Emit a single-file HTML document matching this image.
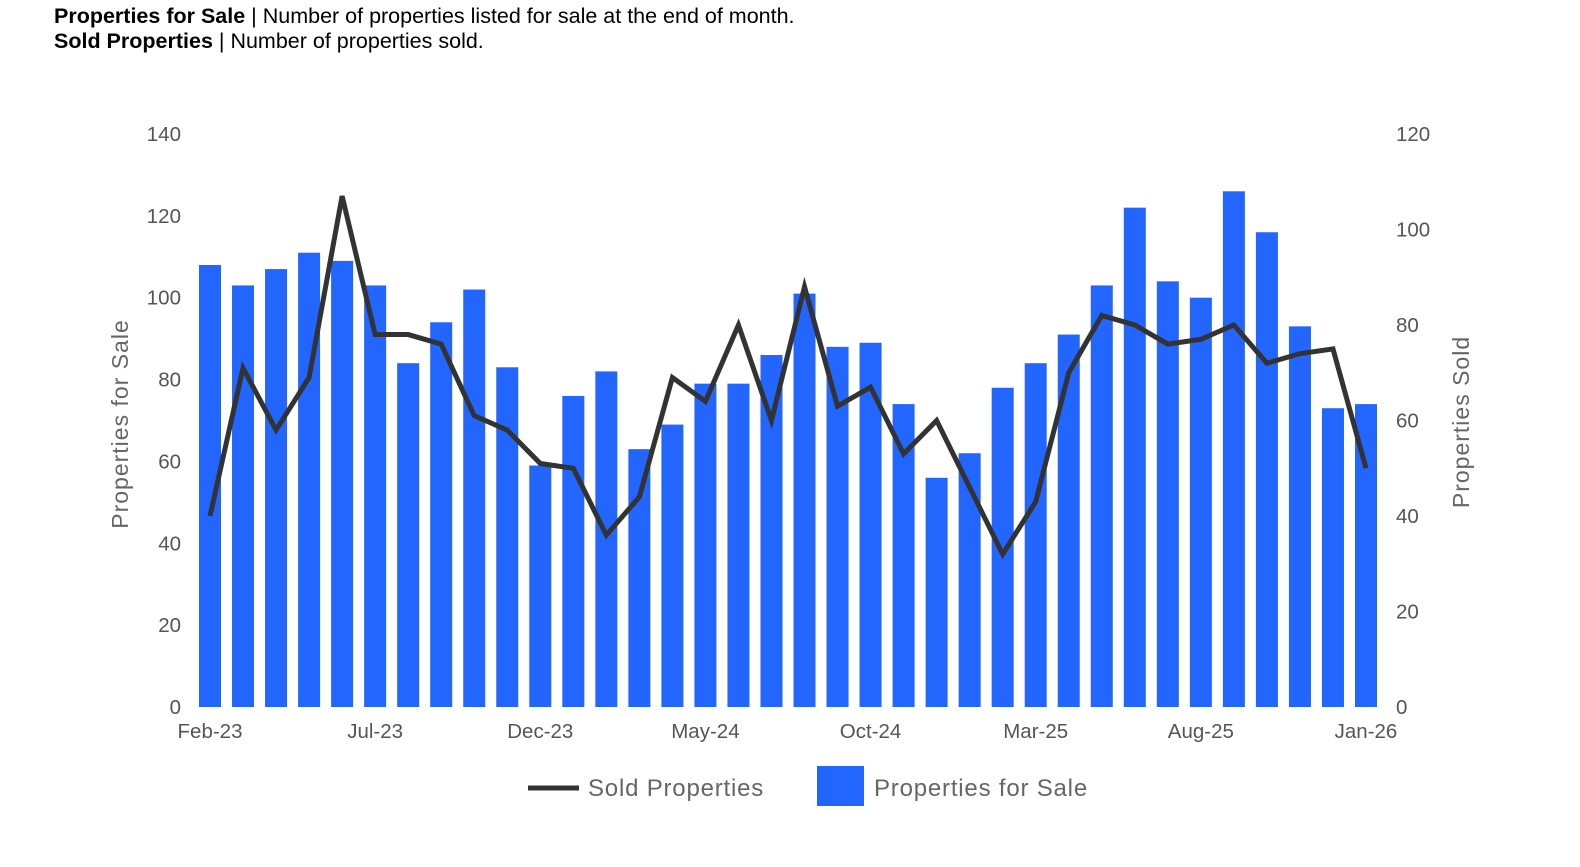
<!DOCTYPE html>
<html><head><meta charset="utf-8"><style>
body{margin:0;background:#fff;font-family:"Liberation Sans",Arial,sans-serif;}
#wrap{position:relative;width:1580px;height:867px;overflow:hidden;}
.hdr{position:absolute;left:54px;font-size:21.5px;color:#000;white-space:nowrap;}
svg text{font-family:"Liberation Sans",Arial,sans-serif;}
</style></head><body>
<div id="wrap">
<div class="hdr" style="top:4px"><b>Properties for Sale</b> | Number of properties listed for sale at the end of month.</div>
<div class="hdr" style="top:29px"><b>Sold Properties</b> | Number of properties sold.</div>
<svg id="chart" width="1580" height="867" style="position:absolute;left:0;top:0"></svg>
</div>
<script>
const months=["Feb-23","Mar-23","Apr-23","May-23","Jun-23","Jul-23","Aug-23","Sep-23","Oct-23","Nov-23","Dec-23","Jan-24","Feb-24","Mar-24","Apr-24","May-24","Jun-24","Jul-24","Aug-24","Sep-24","Oct-24","Nov-24","Dec-24","Jan-25","Feb-25","Mar-25","Apr-25","May-25","Jun-25","Jul-25","Aug-25","Sep-25","Oct-25","Nov-25","Dec-25","Jan-26"];
const forSale=[108,103,107,111,109,103,84,94,102,83,59,76,82,63,69,79,79,86,101,88,89,74,56,62,78,84,91,103,122,104,100,126,116,93,73,74];
const sold=[40,71,58,69,107,78,78,76,61,58,51,50,36,44,69,64,80,60,88,63,67,53,60,46,32,43,70,82,80,76,77,80,72,74,75,50];
const leftTicks=[0,20,40,60,80,100,120,140];
const rightTicks=[0,20,40,60,80,100,120];
const xLabelIdx=[0,5,10,15,20,25,30,35];

const NS="http://www.w3.org/2000/svg";
const svg=document.getElementById('chart');
const y0=707,yTop=134,x0=210,x1=1366;
const yL=v=>y0-(v/140)*(y0-yTop);
const yR=v=>y0-(v/120)*(y0-yTop);
const step=(x1-x0)/(months.length-1);
const xC=i=>x0+i*step;
function mk(t,a,txt){const e=document.createElementNS(NS,t);for(const k in a)e.setAttribute(k,a[k]);if(txt!=null)e.textContent=txt;svg.appendChild(e);return e;}

leftTicks.forEach(v=>{const e=mk('text',{x:181,y:yL(v)+7,'text-anchor':'end','font-size':20.5,fill:'#555'},v);

});
rightTicks.forEach(v=>{const e=mk('text',{x:1396,y:yR(v)+7,'font-size':20.5,fill:'#555'},v);

});
let t=mk('text',{x:128,y:424,'text-anchor':'middle','font-size':23,'letter-spacing':1,fill:'#666',transform:'rotate(-90 128 424)'},'Properties for Sale');


t=mk('text',{x:1469,y:422,'text-anchor':'middle','font-size':23,'letter-spacing':1,fill:'#666',transform:'rotate(-90 1469 422)'},'Properties Sold');



forSale.forEach((v,i)=>{const r=mk('rect',{x:xC(i)-11,y:yL(v),width:22,height:y0-yL(v),fill:'#2266ff'});

});
xLabelIdx.forEach(i=>{const e=mk('text',{x:xC(i),y:738,'text-anchor':'middle','font-size':20.5,fill:'#555'},months[i]);

});
const pts=sold.map((v,i)=>xC(i)+','+yR(v)).join(' ');
const pl=mk('polyline',{points:pts,fill:'none',stroke:'#333',"stroke-width":5,"stroke-linejoin":'miter'});



let g=mk('line',{x1:528,y1:788,x2:579,y2:788,stroke:'#333','stroke-width':5});


g=mk('text',{x:588,y:796,'font-size':24,'letter-spacing':0.8,fill:'#666'},'Sold Properties');


g=mk('rect',{x:817,y:766,width:47,height:40,fill:'#2266ff'});


g=mk('text',{x:874,y:796,'font-size':24,'letter-spacing':0.8,fill:'#666'},'Properties for Sale');


</script>
</body></html>
